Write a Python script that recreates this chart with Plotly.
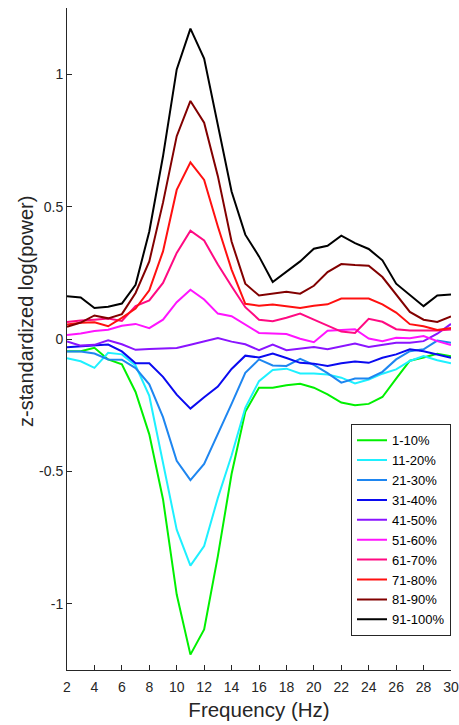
import plotly.graph_objects as go

# Frequency bins (Hz)
freq = list(range(2, 31))

# Percentile groups and their line colours
groups = ["1-10%", "11-20%", "21-30%", "31-40%", "41-50%",
          "51-60%", "61-70%", "71-80%", "81-90%", "91-100%"]
colors = ["#00F000", "#1EF0FF", "#1E86F0", "#0A0AF0", "#8A14FF",
          "#FF14FF", "#FF0A82", "#FF1010", "#820000", "#000000"]

# z-standardized log(power) per group, one value per frequency bin
p01_10 = [-0.046, -0.046, -0.033, -0.077, -0.096, -0.200, -0.360, -0.605, -0.965, -1.192,
          -1.097, -0.820, -0.510, -0.275, -0.184, -0.184, -0.175, -0.169, -0.184, -0.209,
          -0.240, -0.250, -0.245, -0.219, -0.150, -0.082, -0.070, -0.056, -0.065]
p11_20 = [-0.073, -0.084, -0.109, -0.052, -0.058, -0.100, -0.215, -0.470, -0.720, -0.856,
          -0.782, -0.600, -0.440, -0.260, -0.159, -0.117, -0.112, -0.130, -0.130, -0.134,
          -0.146, -0.168, -0.153, -0.131, -0.115, -0.083, -0.064, -0.080, -0.092]
p21_30 = [-0.047, -0.047, -0.055, -0.077, -0.078, -0.110, -0.171, -0.295, -0.460, -0.533,
          -0.472, -0.360, -0.245, -0.128, -0.077, -0.100, -0.102, -0.075, -0.098, -0.129,
          -0.165, -0.149, -0.149, -0.124, -0.077, -0.046, -0.039, -0.006, -0.014]
p31_40 = [-0.031, -0.028, -0.024, -0.021, -0.047, -0.092, -0.092, -0.143, -0.210, -0.263,
          -0.220, -0.180, -0.113, -0.063, -0.070, -0.055, -0.072, -0.090, -0.093, -0.102,
          -0.092, -0.085, -0.090, -0.071, -0.058, -0.039, -0.046, -0.058, -0.071]
p41_50 = [-0.009, -0.025, -0.022, -0.005, -0.020, -0.041, -0.038, -0.036, -0.034, -0.022,
          -0.008, 0.004, -0.010, -0.020, -0.042, -0.021, -0.042, -0.037, -0.030, -0.039,
          -0.028, -0.017, -0.030, -0.021, -0.014, -0.014, -0.008, 0.020, 0.057]
p51_60 = [0.015, 0.021, 0.030, 0.035, 0.050, 0.057, 0.041, 0.073, 0.139, 0.186,
          0.149, 0.096, 0.086, 0.055, 0.023, 0.021, 0.019, 0.001, -0.012, 0.031,
          0.033, 0.037, 0.002, -0.008, 0.005, 0.003, 0.011, -0.008, -0.023]
p61_70 = [0.064, 0.070, 0.073, 0.077, 0.068, 0.124, 0.146, 0.212, 0.325, 0.409,
          0.372, 0.281, 0.199, 0.120, 0.073, 0.067, 0.080, 0.096, 0.073, 0.050,
          0.028, 0.023, 0.076, 0.065, 0.037, 0.032, 0.033, 0.032, 0.036]
p71_80 = [0.055, 0.061, 0.063, 0.048, 0.080, 0.115, 0.184, 0.331, 0.563, 0.667,
          0.601, 0.425, 0.262, 0.133, 0.126, 0.130, 0.124, 0.117, 0.126, 0.131,
          0.153, 0.154, 0.153, 0.131, 0.100, 0.056, 0.048, 0.034, 0.042]
p81_90 = [0.046, 0.062, 0.089, 0.078, 0.094, 0.174, 0.293, 0.515, 0.766, 0.899,
          0.817, 0.615, 0.368, 0.209, 0.164, 0.170, 0.178, 0.171, 0.201, 0.253,
          0.283, 0.279, 0.277, 0.234, 0.168, 0.102, 0.073, 0.064, 0.085]
p91_100 = [0.161, 0.157, 0.117, 0.122, 0.134, 0.205, 0.406, 0.690, 1.018, 1.172,
           1.059, 0.810, 0.557, 0.394, 0.312, 0.215, 0.253, 0.293, 0.341, 0.352,
           0.390, 0.362, 0.340, 0.297, 0.209, 0.166, 0.124, 0.164, 0.168]

series = [p01_10, p11_20, p21_30, p31_40, p41_50,
          p51_60, p61_70, p71_80, p81_90, p91_100]

ytick_vals = [-1, -0.5, 0, 0.5, 1]
ytick_text = ["-1", "-0.5", "0", "0.5", "1"]
xtick_vals = list(range(2, 31, 2))

axis_col = "#262626"
font_family = "Liberation Sans, Arial, sans-serif"

fig = go.Figure()
for name, col, vals in zip(groups, colors, series):
    fig.add_trace(go.Scatter(
        x=freq, y=vals, mode="lines", name=name,
        line=dict(color=col, width=2),
    ))

# vertical axis label placed as a rotated annotation left of the tick labels
fig.add_annotation(
    text="z-standardized log(power)", textangle=-90,
    xref="paper", yref="paper", x=-0.105, y=0.542,
    xanchor="center", yanchor="middle", showarrow=False,
    font=dict(size=20, color=axis_col),
)

fig.update_layout(
    width=459, height=725,
    margin=dict(l=67, r=8, t=8, b=55, autoexpand=False),
    paper_bgcolor="white", plot_bgcolor="white",
    font=dict(family=font_family, size=14, color=axis_col),
    showlegend=True,
    legend=dict(
        x=1.0, y=0.051, xanchor="right", yanchor="bottom",
        bgcolor="white", bordercolor=axis_col, borderwidth=1,
        font=dict(size=13, color="#000000"),
        tracegroupgap=0, itemwidth=30,
    ),
    xaxis=dict(
        range=[2, 30], tickvals=xtick_vals, automargin=False,
        ticks="inside", ticklen=5, tickcolor=axis_col, tickwidth=1,
        showline=True, linecolor=axis_col, linewidth=1,
        showgrid=False, zeroline=False, mirror=False,
        tickfont=dict(size=14), ticklabelstandoff=4,
        title=dict(text="Frequency (Hz)", font=dict(size=20.5), standoff=8),
    ),
    yaxis=dict(
        range=[-1.25, 1.25], tickvals=ytick_vals, ticktext=ytick_text,
        automargin=False,
        ticks="inside", ticklen=5, tickcolor=axis_col, tickwidth=1,
        showline=True, linecolor=axis_col, linewidth=1,
        showgrid=False, zeroline=False, mirror=False,
        tickfont=dict(size=14),
    ),
)

fig.write_html("out.html")
